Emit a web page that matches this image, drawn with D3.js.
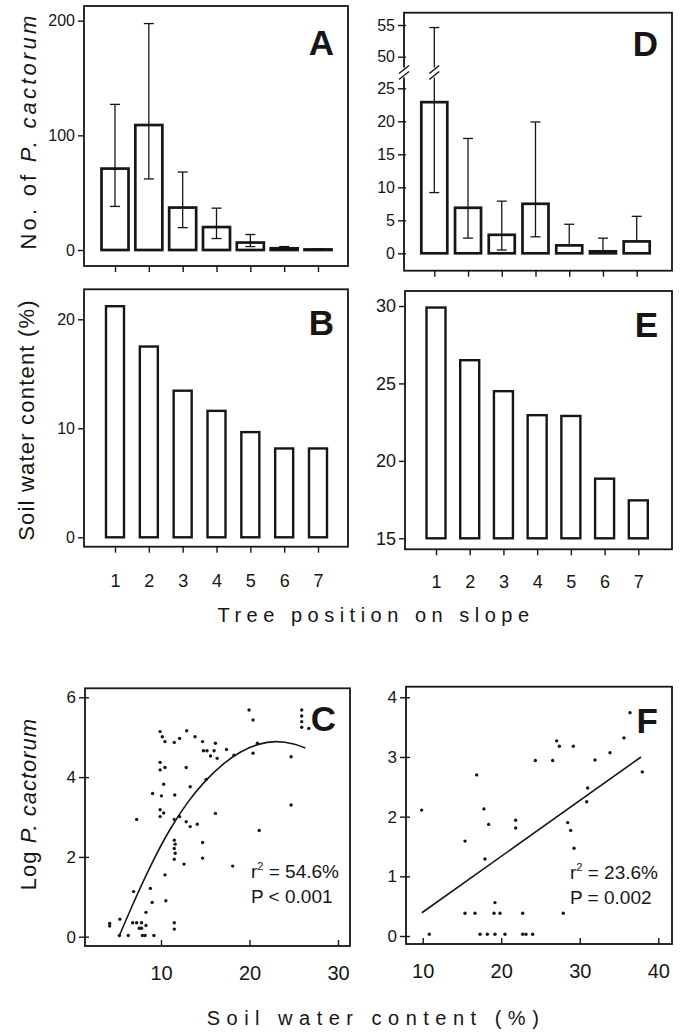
<!DOCTYPE html>
<html>
<head>
<meta charset="utf-8">
<script src="https://cdn.jsdelivr.net/npm/d3@7"></script>
<style>
  html, body { margin: 0; padding: 0; background: #fff; }
  svg { display: block; }
</style>
</head>
<body>
<svg id="chart" width="682" height="1032"></svg>
<script>
const positions = [1, 2, 3, 4, 5, 6, 7];

// A - number of P. cactorum by tree position (mean, error bar low/high)
const countA = [71, 109, 37, 20, 6.5, 1.5, 0.5];
const countALow = [38, 62, 19.5, 10, 3, 0.5, 0];
const countAHigh = [127, 197.5, 68, 36.5, 13.5, 3, 1];
const ticksA = [0, 100, 200];

// B - soil water content by tree position
const waterB = [21.2, 17.5, 13.45, 11.6, 9.65, 8.15, 8.15];
const ticksB = [0, 10, 20];

// D - second site counts (broken axis 25..50)
const countD = [22.9, 6.9, 2.8, 7.5, 1.2, 0.3, 1.8];
const countDLow = [9.2, 2.3, 0.5, 2.5, 1.2, 0.3, 1.8];
const countDHigh = [54.6, 17.4, 7.9, 19.9, 4.4, 2.3, 5.6];
const ticksD = [0, 5, 10, 15, 20, 25, 50, 55];

// E - second site soil water
const waterE = [29.9, 26.5, 24.5, 22.95, 22.9, 18.85, 17.45];
const ticksE = [15, 20, 25, 30];

// C - scatter, soil water vs log count
const waterC = [4.2, 4.2, 5.35, 5.3, 6.3, 6.9, 6.8, 7.25, 7.8, 7.55, 7.8, 7.9, 8.2, 8.3, 8.3, 8.8, 9.0, 9.2,
  7.25, 9.05, 9.9, 10.15, 10.45, 9.9, 9.9, 10.45, 10.3, 10.05, 11.55, 9.9, 9.9, 10.3, 10.45, 10.55,
  11.5, 11.5, 11.5, 11.6, 11.5, 11.6, 11.5, 11.5, 11.5, 12.1, 12.1, 12.85, 12.9, 13.3, 12.85, 13.3, 14.1,
  12.6, 13.85, 14.7, 14.8, 15.2, 15.6, 16.15, 16.0, 16.35, 15.1, 16.15, 14.7, 14.7, 17.4, 18.1, 18.25,
  19.95, 20.4, 20.4, 20.9, 21.1, 24.7, 24.7, 25.9, 25.9, 25.9, 25.9, 26.7];
const logC = [0.33, 0.27, 0.44, 0.03, 0.03, 1.13, 0.35, 0.35, 0.35, 0.21, 0.21, 0.03, 0.03, 0.28, 0.61, 1.21, 0.86, 0.03,
  2.94, 3.59, 5.14, 5.01, 4.89, 4.37, 4.18, 4.24, 3.82, 3.53, 3.55, 3.18, 3.01, 3.1, 1.55, 0.9,
  4.87, 2.94, 2.42, 2.32, 2.21, 2.09, 1.94, 0.35, 0.19, 4.97, 3.01, 4.24, 5.16, 3.76, 2.88, 2.76, 2.82,
  1.82, 5.01, 4.89, 4.66, 4.66, 4.53, 4.85, 4.66, 4.47, 3.94, 3.09, 2.36, 1.97, 4.69, 1.77, 4.55,
  5.68, 5.43, 4.6, 4.85, 2.66, 4.51, 3.3, 5.68, 5.53, 5.39, 5.25, 5.22];
// fitted curve
const fitCWater = [5.3, 7, 9, 11, 13, 15, 17, 19, 21, 23, 25, 26.3];
const fitCLog = [0.03, 0.9, 1.85, 2.68, 3.36, 3.9, 4.32, 4.63, 4.82, 4.89, 4.83, 4.73];
const ticksCX = [10, 20, 30];
const ticksCY = [0, 2, 4, 6];

// F - scatter, second site
const waterF = [9.87, 10.84, 15.39, 15.39, 16.66, 16.88, 17.3, 18.23, 19.2, 20.48, 17.8, 18.4, 17.93, 19.2, 19.08,
  19.84, 21.84, 21.84, 22.73, 22.73, 23.15, 24.0, 24.34, 26.55, 27.06, 27.4, 27.9, 28.46, 28.84, 29.27,
  29.18, 30.88, 31.01, 31.94, 33.85, 35.63, 36.4, 37.96];
const logF = [2.11, 0.03, 1.59, 0.38, 0.38, 2.70, 0.03, 0.03, 0.03, 0.03, 2.13, 1.87, 1.29, 0.56, 0.38,
  0.38, 1.94, 1.81, 0.38, 0.03, 0.03, 0.03, 2.94, 2.94, 3.27, 3.18, 0.38, 1.90, 1.77, 1.47,
  3.18, 2.25, 2.48, 2.95, 3.07, 3.32, 3.74, 2.75];
const fitFWater = [9.9, 37.8];
const fitFLog = [0.39, 3.0];
const ticksFX = [10, 20, 30, 40];
const ticksFY = [0, 1, 2, 3, 4];

const font = "'Liberation Sans', Arial, Helvetica, sans-serif";
const ink = "#161616";
const svg = d3.select("#chart").attr("font-family", font);

function frame(b) {
  svg.append("rect")
    .attr("x", b.x0).attr("y", b.y0)
    .attr("width", b.x1 - b.x0).attr("height", b.y1 - b.y0)
    .attr("fill", "none").attr("stroke", ink).attr("stroke-width", 1.8);
}

function leftAxis(b, y, ticks, size, inner) {
  const g = svg.append("g")
    .attr("transform", `translate(${b.x0},0)`)
    .call(d3.axisLeft(y).tickValues(ticks).tickFormat(d3.format("d"))
      .tickSize(6).tickPadding(3).tickSizeOuter(0));
  g.select(".domain").remove();
  g.attr("font-family", font).attr("font-size", size);
  g.selectAll(".tick line").attr("stroke", ink).attr("stroke-width", 1.4).attr("x1", inner || 0);
  g.selectAll(".tick text").attr("fill", ink);
  return g;
}

function bottomAxis(b, x, ticks, size, tickSize, pad, labels) {
  const axis = d3.axisBottom(x).tickSize(tickSize).tickPadding(pad).tickSizeOuter(0);
  if (ticks) axis.tickValues(ticks);
  axis.tickFormat(labels ? d3.format("d") : "");
  const g = svg.append("g")
    .attr("transform", `translate(0,${b.y1})`)
    .call(axis);
  g.select(".domain").remove();
  g.attr("font-family", font).attr("font-size", size);
  g.selectAll(".tick line").attr("stroke", ink).attr("stroke-width", 1.4);
  g.selectAll(".tick text").attr("fill", ink);
  return g;
}

function panelLetter(b, letter, baseline) {
  svg.append("text")
    .attr("x", b.x1 - 14).attr("y", baseline)
    .attr("text-anchor", "end")
    .attr("font-size", 35).attr("font-weight", "bold")
    .attr("fill", ink)
    .text(letter);
}

function bars(x, y, base, values, barW, strokeW) {
  svg.append("g").selectAll("rect")
    .data(values)
    .join("rect")
      .attr("x", (d, i) => x(positions[i]) - barW / 2)
      .attr("y", (d) => y(d))
      .attr("width", barW)
      .attr("height", (d) => y(base) - y(d))
      .attr("fill", "#fff")
      .attr("stroke", ink)
      .attr("stroke-width", strokeW);
}

function errorBars(x, y, low, high) {
  const g = svg.append("g").attr("stroke", ink).attr("stroke-width", 1.3);
  positions.forEach((p, i) => {
    const cx = x(p);
    g.append("line").attr("x1", cx).attr("x2", cx).attr("y1", y(low[i])).attr("y2", y(high[i]));
    g.append("line").attr("x1", cx - 5).attr("x2", cx + 5).attr("y1", y(high[i])).attr("y2", y(high[i]));
    g.append("line").attr("x1", cx - 5).attr("x2", cx + 5).attr("y1", y(low[i])).attr("y2", y(low[i]));
  });
}

function breakMark(cx, cy) {
  svg.append("rect").attr("x", cx - 4).attr("y", cy - 5).attr("width", 8).attr("height", 10).attr("fill", "#fff");
  [-3, 3].forEach((o) => {
    svg.append("line")
      .attr("x1", cx - 5).attr("y1", cy + o + 4)
      .attr("x2", cx + 5).attr("y2", cy + o - 4)
      .attr("stroke", ink).attr("stroke-width", 1.5);
  });
}

function yTitle(x, y, spacing, parts) {
  const t = svg.append("text")
    .attr("transform", `translate(${x},${y}) rotate(-90)`)
    .attr("text-anchor", "middle")
    .attr("font-size", 22)
    .attr("letter-spacing", spacing)
    .attr("fill", ink);
  parts.forEach(([s, it]) => t.append("tspan").attr("font-style", it ? "italic" : "normal").text(s));
}

// ---------- A ----------
const boxA = { x0: 84, x1: 348, y0: 6, y1: 266 };
const xA = d3.scalePoint().domain(positions).range([115, 318]);
const yA = d3.scaleLinear().domain([0, 200]).range([250, 20.7]);
frame(boxA);
leftAxis(boxA, yA, ticksA, 16);
bottomAxis(boxA, xA, positions, 16, 6, 3, false);
bars(xA, yA, 0, countA, 27, 2.7);
errorBars(xA, yA, countALow, countAHigh);
panelLetter(boxA, "A", 55);

// ---------- B ----------
const boxB = { x0: 84, x1: 348, y0: 289.3, y1: 546.7 };
const xB = d3.scalePoint().domain(positions).range([115, 318]);
const yB = d3.scaleLinear().domain([0, 20]).range([537.3, 319.3]);
frame(boxB);
leftAxis(boxB, yB, ticksB, 16);
bottomAxis(boxB, xB, positions, 18, 6, 22, true);
bars(xB, yB, 0, waterB, 18, 2.4);
panelLetter(boxB, "B", 335);

// ---------- D ----------
const boxD = { x0: 404, x1: 672, y0: 12.7, y1: 270.7 };
const xD = d3.scalePoint().domain(positions).range([434.3, 636.7]);
const yD = d3.scaleLinear().domain([0, 25, 50, 55]).range([253.3, 88.3, 56.7, 25]);
frame(boxD);
leftAxis(boxD, yD, ticksD, 16, 2);
bottomAxis(boxD, xD, positions, 16, 6, 3, false);
bars(xD, yD, 0, countD, 26, 2.7);
errorBars(xD, yD, countDLow, countDHigh);
const yBreak = (yD(25) + yD(50)) / 2;
breakMark(boxD.x0, yBreak);
breakMark(xD(1), yBreak);
panelLetter(boxD, "D", 56);

// ---------- E ----------
const boxE = { x0: 405, x1: 672, y0: 291, y1: 549.3 };
const xE = d3.scalePoint().domain(positions).range([436, 638.3]);
const yE = d3.scaleLinear().domain([15, 30]).range([538.3, 306]);
frame(boxE);
leftAxis(boxE, yE, ticksE, 18);
bottomAxis(boxE, xE, positions, 18, 6, 20, true);
bars(xE, yE, 15, waterE, 19, 2.4);
panelLetter(boxE, "E", 337);

// ---------- C ----------
const boxC = { x0: 85, x1: 350, y0: 688.3, y1: 946 };
const xC = d3.scaleLinear().domain([10, 30]).range([161, 338]);
const yC = d3.scaleLinear().domain([0, 6]).range([936.7, 697.3]);
frame(boxC);
leftAxis(boxC, yC, ticksCY, 17, 4);
bottomAxis(boxC, xC, ticksCX, 20, -6, 20, true);
svg.append("g").selectAll("circle")
  .data(waterC)
  .join("circle")
    .attr("cx", (d) => xC(d))
    .attr("cy", (d, i) => yC(logC[i]))
    .attr("r", 1.7)
    .attr("fill", ink);
svg.append("path")
  .datum(fitCWater.map((w, i) => [w, fitCLog[i]]))
  .attr("d", d3.line().x((d) => xC(d[0])).y((d) => yC(d[1])).curve(d3.curveNatural))
  .attr("fill", "none").attr("stroke", ink).attr("stroke-width", 1.6);
panelLetter(boxC, "C", 731);

// ---------- F ----------
const boxF = { x0: 406, x1: 672, y0: 686.7, y1: 944 };
const xF = d3.scaleLinear().domain([10, 40]).range([422.7, 658.3]);
const yF = d3.scaleLinear().domain([0, 4]).range([936, 697.3]);
frame(boxF);
leftAxis(boxF, yF, ticksFY, 17, 4);
bottomAxis(boxF, xF, ticksFX, 20, -6, 20, true);
svg.append("g").selectAll("circle")
  .data(waterF)
  .join("circle")
    .attr("cx", (d) => xF(d))
    .attr("cy", (d, i) => yF(logF[i]))
    .attr("r", 1.7)
    .attr("fill", ink);
svg.append("path")
  .datum(fitFWater.map((w, i) => [w, fitFLog[i]]))
  .attr("d", d3.line().x((d) => xF(d[0])).y((d) => yF(d[1])))
  .attr("fill", "none").attr("stroke", ink).attr("stroke-width", 1.6);
panelLetter(boxF, "F", 733);

// stats text
function stats(x, y, r2, p) {
  const t = svg.append("text").attr("x", x).attr("y", y).attr("font-size", 19).attr("fill", ink);
  t.append("tspan").text("r");
  t.append("tspan").attr("font-size", 11).attr("dy", -8).text("2");
  t.append("tspan").attr("dy", 8).text(` = ${r2}`);
  svg.append("text").attr("x", x).attr("y", y + 25).attr("font-size", 19).attr("fill", ink).text(p);
}
stats(251, 878, "54.6%", "P < 0.001");
stats(570, 879, "23.6%", "P = 0.002");

// axis titles
yTitle(36, 131, 3.2, [["No. of ", false], ["P. cactorum", true]]);
yTitle(34, 420, 1.2, [["Soil water content (%)", false]]);
yTitle(36, 804, 1, [["Log ", false], ["P. cactorum", true]]);

svg.append("text")
  .attr("x", 376).attr("y", 622)
  .attr("text-anchor", "middle")
  .attr("font-size", 20).attr("letter-spacing", 5.5)
  .attr("fill", ink)
  .text("Tree position on slope");
svg.append("text")
  .attr("x", 376).attr("y", 1025)
  .attr("text-anchor", "middle")
  .attr("font-size", 20).attr("letter-spacing", 6.5)
  .attr("fill", ink)
  .text("Soil water content (%)");
</script>
</body>
</html>
